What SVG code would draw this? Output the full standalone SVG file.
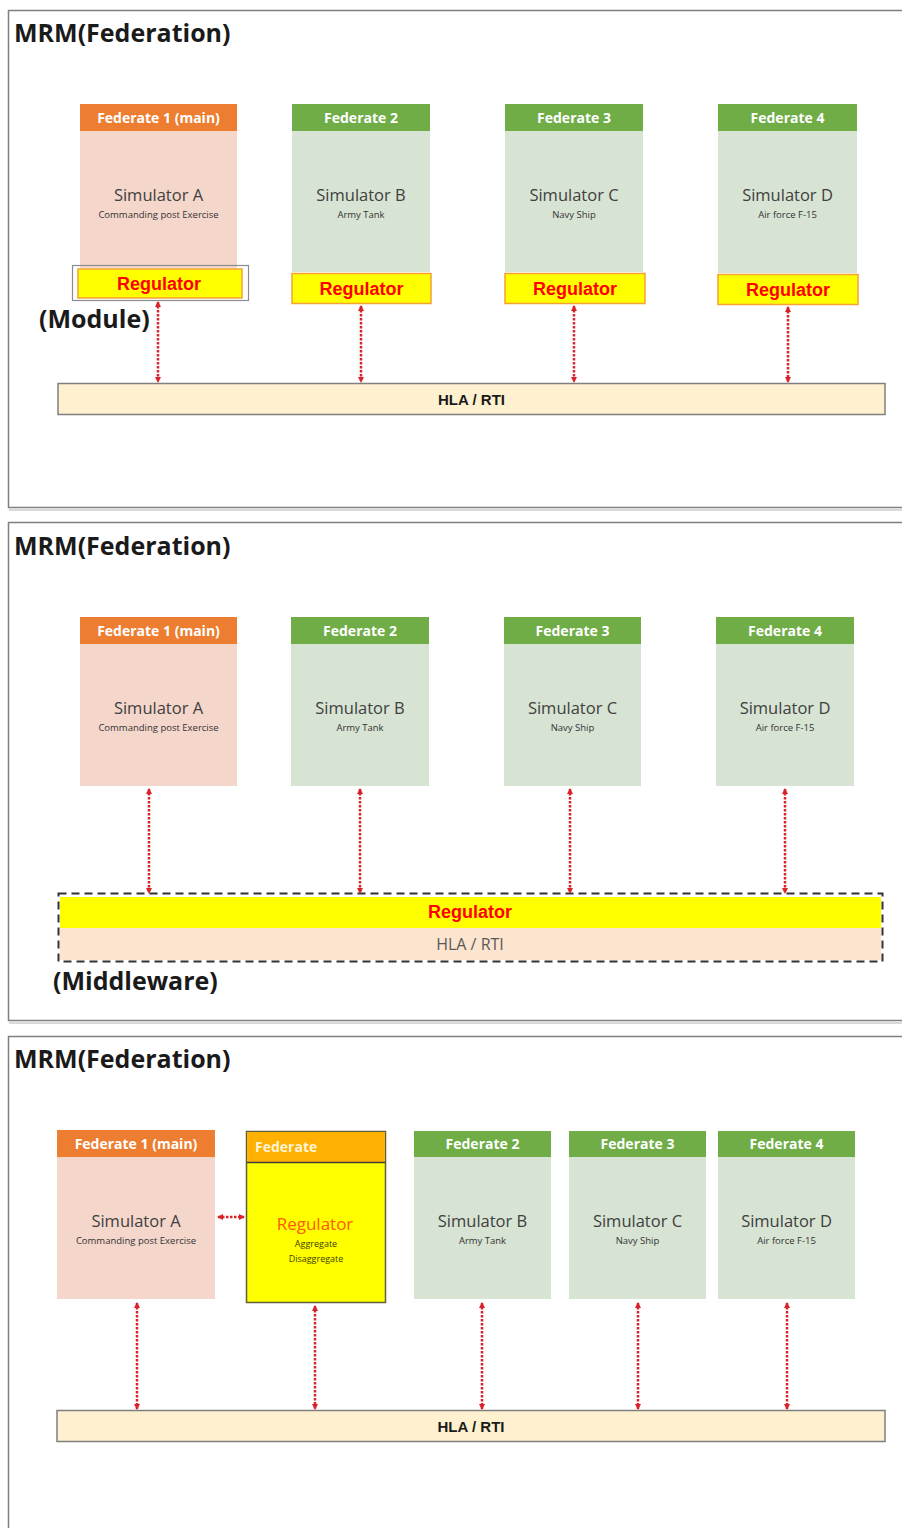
<svg xmlns="http://www.w3.org/2000/svg" width="902" height="1528" viewBox="0 0 902 1528">
  <defs>
    <marker id="tip" viewBox="0 0 6 6" refX="5" refY="3" markerWidth="6" markerHeight="6" orient="auto-start-reverse" markerUnits="userSpaceOnUse">
      <path d="M0,0 L6,3 L0,6 Z" fill="#D8232A"/>
    </marker>
    <style>
      .panel { fill: #FFFFFF; stroke: #7F7F7F; stroke-width: 1.5; }
      .shadow { fill: none; stroke: #D9D9D9; stroke-width: 2; }
      .title { font-family: "Open Sans", "Liberation Sans", sans-serif; font-weight: bold; font-size: 25px; fill: #1A1A1A; }
      .tag { font-family: "Open Sans", "Liberation Sans", sans-serif; font-weight: bold; font-size: 25px; fill: #1A1A1A; }
      .hdr-main { fill: #ED7D31; }
      .hdr-fed { fill: #70AD47; }
      .body-main { fill: #F5D6CB; }
      .body-fed { fill: #D7E3D3; }
      .hdr-text { font-family: "Open Sans", "Liberation Sans", sans-serif; font-weight: bold; font-size: 14px; fill: #FFFFFF; text-anchor: middle; }
      .sim { font-family: "Open Sans", "Liberation Sans", sans-serif; font-size: 16.5px; fill: #404040; text-anchor: middle; }
      .sub { font-family: "Open Sans", "Liberation Sans", sans-serif; font-size: 9.5px; fill: #333333; text-anchor: middle; }
      .reg { fill: #FFFF00; stroke: #F4A236; stroke-width: 1.5; }
      .reg-text { font-family: "Liberation Sans", Arial, sans-serif; font-weight: bold; font-size: 18px; fill: #FF0000; text-anchor: middle; }
      .rti { fill: #FFF1CF; stroke: #7F7F7F; stroke-width: 1.5; }
      .rti-text { font-family: "Liberation Sans", Arial, sans-serif; font-weight: bold; font-size: 15px; fill: #1A1A1A; text-anchor: middle; }
      .link { stroke: #D8232A; stroke-width: 2.5; stroke-dasharray: 2.5 1.5; fill: none; marker-start: url(#tip); marker-end: url(#tip); }
    </style>
  </defs>

  <rect width="902" height="1528" fill="#FFFFFF"/>

  <!-- ===== Panel 1: regulator as module ===== -->
  <g id="panel1">
    <line class="shadow" x1="9" y1="510" x2="902" y2="510"/>
    <rect class="panel" x="8.5" y="10.5" width="900" height="497"/>
    <text class="title" x="14" y="42">MRM(Federation)</text>
    <text class="tag" x="39" y="328">(Module)</text>
  </g>

  <g id="p1-fed1">
    <rect class="hdr-main" x="80" y="104" width="157" height="27"/>
    <rect class="body-main" x="80" y="131" width="157" height="137"/>
    <text class="hdr-text" x="158.5" y="123">Federate 1 (main)</text>
    <text class="sim" x="158.5" y="201">Simulator A</text>
    <text class="sub" x="158.5" y="218">Commanding post Exercise</text>
  </g>
  <g id="p1-reg1">
    <rect x="72.5" y="265.5" width="176" height="35" fill="none" stroke="#8C8C8C" stroke-width="1.2"/>
    <rect class="reg" x="78" y="269" width="164" height="29"/>
    <text class="reg-text" x="159" y="290">Regulator</text>
  </g>

  <g id="p1-fed2">
    <rect class="hdr-fed" x="292" y="104" width="138" height="27"/>
    <rect class="body-fed" x="292" y="131" width="138" height="141"/>
    <text class="hdr-text" x="361" y="123">Federate 2</text>
    <text class="sim" x="361" y="201">Simulator B</text>
    <text class="sub" x="361" y="218">Army Tank</text>
  </g>
  <g id="p1-reg2">
    <rect class="reg" x="292" y="273.5" width="139" height="30"/>
    <text class="reg-text" x="361.5" y="295">Regulator</text>
  </g>

  <g id="p1-fed3">
    <rect class="hdr-fed" x="505" y="104" width="138" height="27"/>
    <rect class="body-fed" x="505" y="131" width="138" height="141"/>
    <text class="hdr-text" x="574" y="123">Federate 3</text>
    <text class="sim" x="574" y="201">Simulator C</text>
    <text class="sub" x="574" y="218">Navy Ship</text>
  </g>
  <g id="p1-reg3">
    <rect class="reg" x="505" y="273.5" width="140" height="30"/>
    <text class="reg-text" x="575" y="295">Regulator</text>
  </g>

  <g id="p1-fed4">
    <rect class="hdr-fed" x="718" y="104" width="139" height="27"/>
    <rect class="body-fed" x="718" y="131" width="139" height="142"/>
    <text class="hdr-text" x="787.5" y="123">Federate 4</text>
    <text class="sim" x="787.5" y="201">Simulator D</text>
    <text class="sub" x="787.5" y="218">Air force F-15</text>
  </g>
  <g id="p1-reg4">
    <rect class="reg" x="718" y="274.5" width="140" height="30"/>
    <text class="reg-text" x="788" y="296">Regulator</text>
  </g>

  <g id="p1-rti">
    <rect class="rti" x="58" y="383.5" width="827" height="31"/>
    <text class="rti-text" x="471.5" y="404.5">HLA / RTI</text>
  </g>

  <g id="p1-links">
    <line class="link" x1="158" y1="302" x2="158" y2="382"/>
    <line class="link" x1="361" y1="306" x2="361" y2="382"/>
    <line class="link" x1="574" y1="306" x2="574" y2="382"/>
    <line class="link" x1="788" y1="307" x2="788" y2="382"/>
  </g>

  <!-- ===== Panel 2: regulator as middleware ===== -->
  <g id="panel2">
    <line class="shadow" x1="9" y1="1023" x2="902" y2="1023"/>
    <rect class="panel" x="8.5" y="522.5" width="900" height="498"/>
    <text class="title" x="14" y="555">MRM(Federation)</text>
    <text class="tag" x="53" y="990">(Middleware)</text>
  </g>

  <g id="p2-fed1">
    <rect class="hdr-main" x="80" y="617" width="157" height="27"/>
    <rect class="body-main" x="80" y="644" width="157" height="142"/>
    <text class="hdr-text" x="158.5" y="636">Federate 1 (main)</text>
    <text class="sim" x="158.5" y="714">Simulator A</text>
    <text class="sub" x="158.5" y="731">Commanding post Exercise</text>
  </g>
  <g id="p2-fed2">
    <rect class="hdr-fed" x="291" y="617" width="138" height="27"/>
    <rect class="body-fed" x="291" y="644" width="138" height="142"/>
    <text class="hdr-text" x="360" y="636">Federate 2</text>
    <text class="sim" x="360" y="714">Simulator B</text>
    <text class="sub" x="360" y="731">Army Tank</text>
  </g>
  <g id="p2-fed3">
    <rect class="hdr-fed" x="504" y="617" width="137" height="27"/>
    <rect class="body-fed" x="504" y="644" width="137" height="142"/>
    <text class="hdr-text" x="572.5" y="636">Federate 3</text>
    <text class="sim" x="572.5" y="714">Simulator C</text>
    <text class="sub" x="572.5" y="731">Navy Ship</text>
  </g>
  <g id="p2-fed4">
    <rect class="hdr-fed" x="716" y="617" width="138" height="27"/>
    <rect class="body-fed" x="716" y="644" width="138" height="142"/>
    <text class="hdr-text" x="785" y="636">Federate 4</text>
    <text class="sim" x="785" y="714">Simulator D</text>
    <text class="sub" x="785" y="731">Air force F-15</text>
  </g>

  <g id="p2-middleware">
    <rect x="60" y="897" width="821" height="31" fill="#FFFF00"/>
    <rect x="60" y="928" width="821" height="32" fill="#FCE4CE"/>
    <rect x="58.5" y="893.5" width="824" height="68" fill="none" stroke="#333333" stroke-width="2" stroke-dasharray="8 5"/>
    <text class="reg-text" x="470" y="918">Regulator</text>
    <text x="470" y="950" font-family="Open Sans, Liberation Sans, sans-serif" font-size="16px" fill="#595959" text-anchor="middle">HLA / RTI</text>
  </g>

  <g id="p2-links">
    <line class="link" x1="149" y1="789" x2="149" y2="893"/>
    <line class="link" x1="360" y1="789" x2="360" y2="893"/>
    <line class="link" x1="570" y1="789" x2="570" y2="893"/>
    <line class="link" x1="785" y1="789" x2="785" y2="893"/>
  </g>

  <!-- ===== Panel 3: regulator as federate ===== -->
  <g id="panel3">
    <rect class="panel" x="8.5" y="1036.5" width="900" height="500"/>
    <text class="title" x="14" y="1068">MRM(Federation)</text>
  </g>

  <g id="p3-fed1">
    <rect class="hdr-main" x="57" y="1130" width="158" height="27"/>
    <rect class="body-main" x="57" y="1157" width="158" height="142"/>
    <text class="hdr-text" x="136" y="1149">Federate 1 (main)</text>
    <text class="sim" x="136" y="1227">Simulator A</text>
    <text class="sub" x="136" y="1244">Commanding post Exercise</text>
  </g>

  <g id="p3-regfed">
    <rect x="246.5" y="1131.5" width="139" height="171" fill="#FFFF00" stroke="#5F5F3F" stroke-width="1.5"/>
    <rect x="247" y="1132" width="138" height="30" fill="#FFB000"/>
    <line x1="246.5" y1="1162.5" x2="385.5" y2="1162.5" stroke="#3F3F3F" stroke-width="1.5"/>
    <text x="255" y="1152" font-family="Open Sans, Liberation Sans, sans-serif" font-weight="bold" font-size="14px" fill="#FFF4D6">Federate</text>
    <text x="315" y="1230" font-family="Open Sans, Liberation Sans, sans-serif" font-size="17px" fill="#FF5A00" text-anchor="middle">Regulator</text>
    <text x="316" y="1247" font-family="Open Sans, Liberation Sans, sans-serif" font-size="9px" fill="#404000" text-anchor="middle">Aggregate</text>
    <text x="316" y="1262" font-family="Open Sans, Liberation Sans, sans-serif" font-size="9px" fill="#404000" text-anchor="middle">Disaggregate</text>
  </g>

  <g id="p3-fed2">
    <rect class="hdr-fed" x="414" y="1131" width="137" height="26"/>
    <rect class="body-fed" x="414" y="1157" width="137" height="142"/>
    <text class="hdr-text" x="482.5" y="1149">Federate 2</text>
    <text class="sim" x="482.5" y="1227">Simulator B</text>
    <text class="sub" x="482.5" y="1244">Army Tank</text>
  </g>
  <g id="p3-fed3">
    <rect class="hdr-fed" x="569" y="1131" width="137" height="26"/>
    <rect class="body-fed" x="569" y="1157" width="137" height="142"/>
    <text class="hdr-text" x="637.5" y="1149">Federate 3</text>
    <text class="sim" x="637.5" y="1227">Simulator C</text>
    <text class="sub" x="637.5" y="1244">Navy Ship</text>
  </g>
  <g id="p3-fed4">
    <rect class="hdr-fed" x="718" y="1131" width="137" height="26"/>
    <rect class="body-fed" x="718" y="1157" width="137" height="142"/>
    <text class="hdr-text" x="786.5" y="1149">Federate 4</text>
    <text class="sim" x="786.5" y="1227">Simulator D</text>
    <text class="sub" x="786.5" y="1244">Air force F-15</text>
  </g>

  <g id="p3-rti">
    <rect class="rti" x="57" y="1410.5" width="828" height="31"/>
    <text class="rti-text" x="471" y="1431.5">HLA / RTI</text>
  </g>

  <g id="p3-links">
    <line class="link" x1="218" y1="1217" x2="244" y2="1217"/>
    <line class="link" x1="137" y1="1303" x2="137" y2="1409"/>
    <line class="link" x1="315" y1="1306" x2="315" y2="1409"/>
    <line class="link" x1="482" y1="1303" x2="482" y2="1409"/>
    <line class="link" x1="638" y1="1303" x2="638" y2="1409"/>
    <line class="link" x1="787" y1="1303" x2="787" y2="1409"/>
  </g>
</svg>
